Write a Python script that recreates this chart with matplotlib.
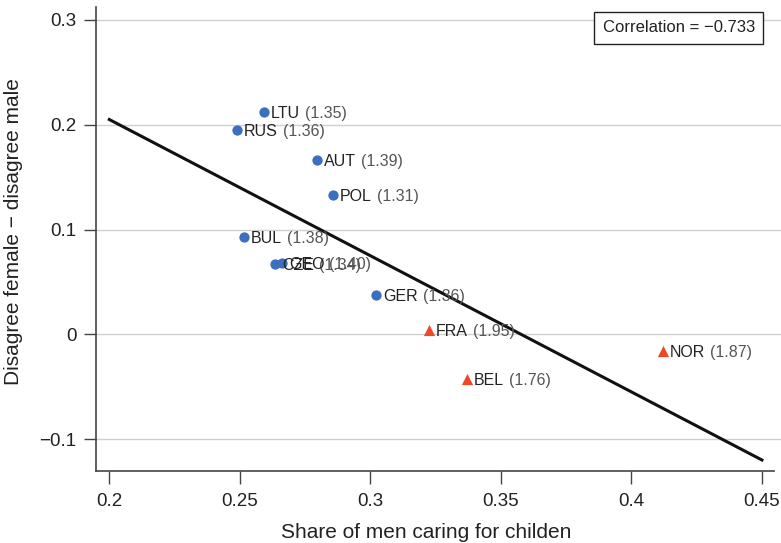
import matplotlib
matplotlib.use("Agg")
import matplotlib.pyplot as plt

plt.rcParams['font.family'] = ['Liberation Sans', 'DejaVu Sans']

# countries in two groups (blue circles / red triangles)
blue_names = ["LTU", "RUS", "AUT", "POL", "BUL", "CZE", "GEO", "GER"]
blue_tfr = ["1.35", "1.36", "1.39", "1.31", "1.38", "1.34", "1.40", "1.36"]
blue_x = [0.2593, 0.2490, 0.2796, 0.2858, 0.2517, 0.2636, 0.2662, 0.3022]
blue_y = [0.2124, 0.1950, 0.1665, 0.1330, 0.0928, 0.0670, 0.0680, 0.0373]

red_names = ["FRA", "BEL", "NOR"]
red_tfr = ["1.95", "1.76", "1.87"]
red_x = [0.3225, 0.3370, 0.4120]
red_y = [0.0040, -0.0430, -0.0160]

fit_x = [0.2, 0.45]
fit_y = [0.205, -0.120]

corr_text = "Correlation = \u22120.733"

x_ticks = [0.2, 0.25, 0.3, 0.35, 0.4, 0.45]
x_tick_labels = ["0.2", "0.25", "0.3", "0.35", "0.4", "0.45"]
y_ticks = [-0.1, 0, 0.1, 0.2, 0.3]
y_tick_labels = ["\u22120.1", "0", "0.1", "0.2", "0.3"]

fig = plt.figure(figsize=(7.81, 5.43), dpi=100)
# axes box in pixels: left 96, right 781, top 7, bottom 471
ax = fig.add_axes([96 / 781, 1 - 471 / 543, 685 / 781, 464 / 543])

ax.set_xlim(0.1949, 0.4573)
ax.set_ylim(-0.1305, 0.3124)

for t in y_ticks:
    ax.axhline(t, color="#d0d0d0", lw=1.0, zorder=0)

ax.plot(fit_x, fit_y, color="#111111", lw=2.2, zorder=2)

ax.scatter(blue_x, blue_y, s=55, marker="o", color="#3d6fc0", zorder=3, linewidths=0)
ax.scatter(red_x, red_y, s=65, marker="^", color="#ec4a26", zorder=3, linewidths=0)

def put_label(x, y, name, tfr):
    t = ax.annotate(name, (x, y), xytext=(5, -1), textcoords="offset points",
                    fontsize=11.5, color="#222222", va="center", ha="left", zorder=4)
    ax.annotate("(" + tfr + ")", xy=(1, 0.5), xycoords=t, xytext=(3.5, 0),
                textcoords="offset points", va="center", ha="left",
                fontsize=11.5, color="#555555", zorder=4)

for x, y, n, v in zip(blue_x, blue_y, blue_names, blue_tfr):
    put_label(x, y, n, v)
for x, y, n, v in zip(red_x, red_y, red_names, red_tfr):
    put_label(x, y, n, v)

ax.text(0.962, 0.955, corr_text, transform=ax.transAxes, ha="right", va="center",
        fontsize=12, color="#222222",
        bbox=dict(boxstyle="square,pad=0.5", facecolor="white", edgecolor="#222222", lw=1.0))

ax.set_xticks(x_ticks)
ax.set_xticklabels(x_tick_labels)
ax.set_yticks(y_ticks)
ax.set_yticklabels(y_tick_labels)
ax.tick_params(axis="both", labelsize=13.5, colors="#444444", labelcolor="#222222",
               length=9, width=1.0, direction="out")
ax.tick_params(axis="x", pad=7)
ax.tick_params(axis="y", pad=5)

for side in ["top", "right"]:
    ax.spines[side].set_visible(False)
for side in ["left", "bottom"]:
    ax.spines[side].set_color("#444444")
    ax.spines[side].set_linewidth(1.2)
ax.spines["bottom"].set_bounds(0.1949, 0.4547)

ax.set_xlabel("Share of men caring for childen", fontsize=15, color="#222222", labelpad=9)
ax.xaxis.label.set_x(0.482)
ax.set_ylabel("Disagree female \u2212 disagree male", fontsize=15, color="#222222", labelpad=12)
ax.yaxis.label.set_y(0.515)

fig.savefig("out.png", dpi=100)
